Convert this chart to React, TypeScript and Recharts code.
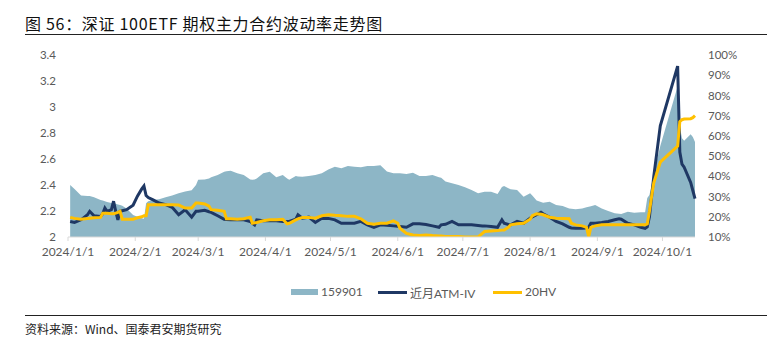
import React from 'react';
import { ComposedChart, Area, Line, XAxis, YAxis } from 'recharts';

// trading dates (2024, MM-DD)
const dates = [
  '01-02', '01-04', '01-07', '01-10', '01-11', '01-13', '01-16', '01-17', '01-18', '01-19', '01-21', '01-22', '01-23', '01-24', '01-25', '01-26', '01-28', '01-31',
  '02-02', '02-04', '02-05', '02-06', '02-07', '02-09', '02-12', '02-15', '02-18', '02-21', '02-24', '02-27', '02-29',
  '03-01', '03-04', '03-06', '03-07', '03-10', '03-13', '03-14', '03-16', '03-19', '03-22', '03-25', '03-26', '03-27', '03-28', '03-31',
  '04-03', '04-06', '04-09', '04-11', '04-12', '04-15', '04-16', '04-18', '04-21', '04-24', '04-27', '04-30',
  '05-03', '05-06', '05-09', '05-12', '05-15', '05-18', '05-21', '05-24', '05-27', '05-30',
  '06-01', '06-02', '06-05', '06-08', '06-11', '06-14', '06-17', '06-20', '06-21', '06-23', '06-26', '06-29',
  '07-02', '07-05', '07-08', '07-10', '07-11', '07-14', '07-17', '07-19', '07-20', '07-22', '07-23', '07-26', '07-29',
  '08-01', '08-02', '08-04', '08-06', '08-07', '08-10', '08-13', '08-16', '08-19', '08-20', '08-22', '08-25', '08-27', '08-28', '08-29', '08-31',
  '09-03', '09-06', '09-09', '09-11', '09-12', '09-15', '09-18', '09-21', '09-23', '09-24', '09-25', '09-26', '09-27', '09-30',
  '10-08', '10-09', '10-10', '10-11', '10-14', '10-15', '10-16',
];

// 159901 price (left axis)
const etf159901 = [
  2.40, 2.37, 2.32, 2.315, 2.315, 2.305, 2.285, 2.28, 2.275, 2.27, 2.262, 2.259, 2.255, 2.25, 2.246, 2.24, 2.22, 2.17,
  2.155, 2.145, 2.14, 2.26, 2.275, 2.285, 2.29, 2.305, 2.32, 2.336, 2.35, 2.36, 2.40,
  2.44, 2.443, 2.45, 2.46, 2.477, 2.502, 2.505, 2.51, 2.49, 2.477, 2.443, 2.44, 2.443, 2.45, 2.49,
  2.502, 2.46, 2.477, 2.45, 2.44, 2.469, 2.465, 2.464, 2.469, 2.477, 2.49, 2.52,
  2.541, 2.528, 2.546, 2.541, 2.536, 2.546, 2.546, 2.551, 2.503, 2.49,
  2.49, 2.49, 2.485, 2.495, 2.469, 2.469, 2.477, 2.459, 2.455, 2.426, 2.413, 2.40,
  2.382, 2.362, 2.336, 2.345, 2.349, 2.349, 2.331, 2.385, 2.392, 2.375, 2.367, 2.362, 2.31,
  2.336, 2.32, 2.28, 2.27, 2.264, 2.272, 2.246, 2.238, 2.22, 2.218, 2.213, 2.22, 2.228, 2.233, 2.236, 2.246,
  2.22, 2.20, 2.182, 2.178, 2.177, 2.195, 2.187, 2.19, 2.19, 2.30, 2.323, 2.40, 2.49, 2.70,
  3.16, 2.85, 2.76, 2.74, 2.79, 2.77, 2.73,
];

// near-month ATM implied vol, % (right axis)
const atmIV = [
  17.7, 17.2, 18.5, 21.0, 22.7, 20.5, 20.2, 21.5, 24.3, 22.7, 23.5, 27.7, 22.7, 18.5, 22.7, 23.0, 23.5, 25.7,
  30.2, 33.8, 35.2, 30.5, 29.5, 28.5, 26.8, 26.0, 24.7, 21.0, 23.5, 19.8, 22.7,
  22.7, 23.2, 22.5, 22.2, 20.5, 18.8, 18.6, 18.5, 18.5, 18.5, 17.7, 16.8, 16.0, 18.5, 18.0,
  18.0, 18.0, 17.7, 17.7, 17.7, 18.8, 21.0, 19.3, 19.8, 17.2, 19.3, 19.2,
  18.5, 16.8, 16.8, 16.8, 17.7, 16.0, 14.8, 16.0, 15.8, 15.5,
  15.3, 15.2, 14.8, 16.5, 16.5, 16.2, 15.5, 14.8, 16.0, 16.3, 17.7, 16.0,
  16.0, 16.0, 15.7, 15.5, 15.5, 15.2, 14.8, 18.5, 16.8, 16.2, 16.0, 17.7, 16.8,
  19.3, 20.0, 21.0, 22.2, 21.5, 19.8, 17.7, 16.5, 14.8, 14.5, 14.3, 14.3, 14.5, 14.8, 16.8, 16.8,
  17.2, 17.7, 18.5, 19.0, 18.8, 16.8, 16.0, 14.8, 14.3, 15.0, 20.0, 30.0, 40.0, 65.0,
  94.5, 52.0, 46.0, 44.5, 37.0, 33.0, 29.0,
];

// 20-day historical vol, % (right axis)
const hv20 = [
  19.7, 19.2, 18.8, 19.2, 19.3, 19.5, 19.7, 21.8, 21.8, 21.7, 21.5, 21.5, 21.8, 22.2, 22.7, 18.8, 18.8, 18.8,
  19.5, 20.0, 20.5, 20.5, 26.0, 26.0, 26.0, 26.0, 26.0, 25.8, 24.3, 24.3, 26.8,
  26.8, 26.3, 25.2, 23.5, 23.2, 22.7, 19.0, 19.0, 18.8, 19.0, 19.8, 16.8, 17.0, 17.2, 18.0,
  18.5, 18.5, 18.8, 16.5, 16.8, 18.5, 19.0, 19.7, 19.7, 19.3, 20.5, 21.0,
  20.7, 20.5, 20.2, 20.2, 19.0, 16.8, 16.3, 16.8, 16.8, 18.0,
  16.8, 14.3, 11.8, 11.0, 10.8, 11.0, 10.7, 10.5, 10.5, 10.2, 10.2, 10.2,
  10.0, 10.0, 10.0, 11.8, 12.7, 13.0, 13.2, 13.4, 13.5, 14.8, 16.0, 16.5, 16.8,
  18.8, 20.5, 21.5, 21.3, 21.0, 19.8, 19.3, 19.2, 19.0, 16.8, 16.0, 15.5, 14.8, 10.2, 14.8, 15.5,
  16.0, 16.0, 16.0, 16.0, 16.0, 16.0, 16.0, 16.0, 16.0, 16.5, 22.7, 30.0, 36.8, 47.0,
  55.0, 67.0, 68.0, 68.3, 68.5, 69.0, 70.0,
];

const monthTicks = ['2024/1/1', '2024/2/1', '2024/3/1', '2024/4/1', '2024/5/1', '2024/6/1', '2024/7/1', '2024/8/1', '2024/9/1', '2024/10/1'];
const leftTicks = [2, 2.2, 2.4, 2.6, 2.8, 3, 3.2, 3.4];
const rightTicks = [10, 20, 30, 40, 50, 60, 70, 80, 90, 100];

const dayOf = (m: number, d: number) => (Date.UTC(2024, m - 1, d) - Date.UTC(2024, 0, 1)) / 86400000;

const data = dates.map((s, i) => {
  const [m, d] = s.split('-').map(Number);
  return { day: dayOf(m, d), etf: etf159901[i], iv: atmIV[i], hv: hv20[i] };
});

const tickDays = monthTicks.map((t) => {
  const [, m, d] = t.split('/').map(Number);
  return dayOf(m, d);
});
const tickLabel = (v: number) => monthTicks[tickDays.indexOf(v)] ?? '';

const AREA = '#8DB6C6';
const NAVY = '#1F3864';
const GOLD = '#FFC000';
const GREY = '#595959';
const tickFont = { fontFamily: 'Lato, "Noto Sans", sans-serif', fontSize: 12, fill: GREY };
const yTickFont = { ...tickFont, fontSize: 11.5 };

const App = () => {
  return (
    <div style={{ position: 'absolute', left: 0, top: 0, width: 767, height: 353, background: '#fff', fontFamily: '"Noto Sans CJK SC", sans-serif' }}>
      <div style={{ position: 'absolute', left: 25, top: 11, fontSize: 16, letterSpacing: 0.7, color: '#111', whiteSpace: 'nowrap' }}>
        图 56：深证 100ETF 期权主力合约波动率走势图
      </div>
      <div style={{ position: 'absolute', left: 25, right: 0, top: 34, height: 1, background: '#222' }} />

      <ComposedChart
        width={767}
        height={353}
        data={data}
        margin={{ top: 55, right: 0, bottom: 96, left: 0 }}
        style={{ position: 'absolute', left: 0, top: 0 }}
      >
        <XAxis
          dataKey="day"
          type="number"
          domain={[0, 289]}
          ticks={tickDays}
          tickFormatter={tickLabel}
          interval={0}
          height={20}
          tick={tickFont}
          tickSize={4}
          tickMargin={6}
          axisLine={{ stroke: '#D9D9D9' }}
          tickLine={{ stroke: '#D9D9D9' }}
        />
        <YAxis
          yAxisId="left"
          orientation="left"
          width={68}
          domain={[2, 3.4]}
          ticks={leftTicks}
          allowDataOverflow
          tick={yTickFont}
          tickMargin={6}
          axisLine={false}
          tickLine={false}
        />
        <YAxis
          yAxisId="right"
          orientation="right"
          width={72}
          domain={[10, 100]}
          ticks={rightTicks}
          allowDataOverflow
          tickFormatter={(v: number) => `${v}%`}
          tick={yTickFont}
          tickMargin={7}
          axisLine={false}
          tickLine={false}
        />
        <Area yAxisId="left" dataKey="etf" type="linear" fill={AREA} fillOpacity={1} stroke="none" isAnimationActive={false} />
        <Line yAxisId="right" dataKey="iv" type="linear" stroke={NAVY} strokeWidth={3} dot={false} isAnimationActive={false} />
        <Line yAxisId="right" dataKey="hv" type="linear" stroke={GOLD} strokeWidth={3} dot={false} isAnimationActive={false} />
      </ComposedChart>

      <div style={{ position: 'absolute', top: 284, left: 0, width: 767, height: 16, fontSize: 12, color: GREY, fontFamily: 'Lato, "Noto Sans CJK SC", sans-serif' }}>
        <div style={{ position: 'absolute', left: 291, top: 5, width: 27, height: 6, background: AREA }} />
        <div style={{ position: 'absolute', left: 321, top: 0 }}>159901</div>
        <div style={{ position: 'absolute', left: 378, top: 7, width: 29, height: 3, background: NAVY }} />
        <div style={{ position: 'absolute', left: 410, top: 0, whiteSpace: 'nowrap' }}>近月ATM-IV</div>
        <div style={{ position: 'absolute', left: 493, top: 7, width: 29, height: 3, background: GOLD }} />
        <div style={{ position: 'absolute', left: 525, top: 0 }}>20HV</div>
      </div>

      <div style={{ position: 'absolute', left: 25, right: 0, top: 315, height: 1, background: '#222' }} />
      <div style={{ position: 'absolute', left: 25, top: 320, fontSize: 12, color: '#222', whiteSpace: 'nowrap' }}>
        资料来源：Wind、国泰君安期货研究
      </div>
    </div>
  );
};

export default App;
